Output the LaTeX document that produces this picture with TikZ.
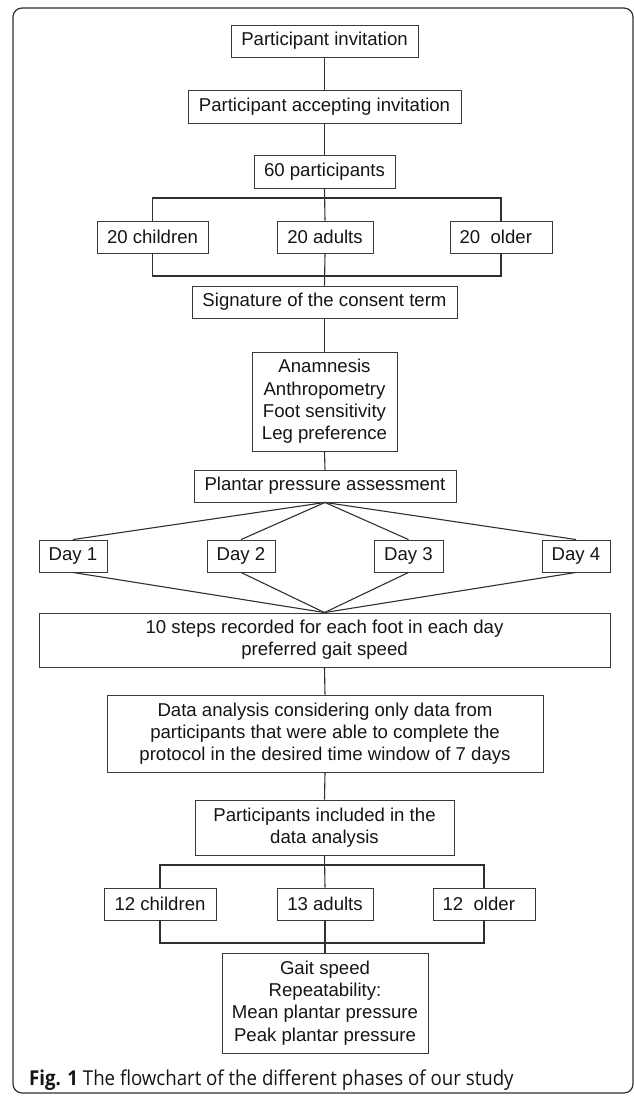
\documentclass[tikz,border=0pt]{standalone}
\usepackage{fontspec}
\setmainfont{Liberation Sans}
\newfontfamily\capfont[FakeStretch=0.91]{Open Sans}
\definecolor{linec}{HTML}{303030}
\definecolor{boxc}{HTML}{3A3A3A}
\definecolor{txtc}{HTML}{151515}
\begin{document}
\begin{tikzpicture}[x=1pt,y=-1pt,
  box/.style={draw=boxc, line width=0.9pt, rectangle, inner sep=0pt, align=center,
    text=txtc, font=\fontsize{18.6}{22.3}\selectfont, minimum height=32pt},
  conn/.style={draw=linec, line width=1.1pt}]
\useasboundingbox (0,0) rectangle (634,1096);
\draw[line width=1.2pt, draw=linec, rounded corners=9pt] (13,8) rectangle (633,1093);
\node[box, minimum width=187pt] (inv) at (324.5,41) {Participant invitation};
\node[box, minimum width=273pt, minimum height=33pt] (acc) at (324.5,106.5) {Participant accepting invitation};
\node[box, minimum width=141pt, minimum height=33pt] (p60) at (324.5,171.5) {60 participants};
\node[box, minimum width=111pt] (c20) at (152.5,237) {20 children};
\node[box, minimum width=96pt] (a20) at (325,237) {20 adults};
\node[box, minimum width=102pt] (o20) at (501,237) {20\ \ older\ \ };
\node[box, minimum width=265pt] (sig) at (324.5,302) {Signature of the consent term};
\node[box, minimum width=145pt, minimum height=99pt] (ana) at (324.5,401.5) {Anamnesis\\Anthropometry\\Foot sensitivity\\Leg preference};
\node[box, minimum width=262pt] (pla) at (325,486) {Plantar pressure assessment};
\node[box, minimum width=68pt] (d1) at (73,556) {Day 1};
\node[box, minimum width=68pt] (d2) at (241,556) {Day 2};
\node[box, minimum width=69pt] (d3) at (408.5,556) {Day 3};
\node[box, minimum width=68pt] (d4) at (576,556) {Day 4};
\node[box, minimum width=571pt, minimum height=54pt] (ten) at (324.5,640) {10 steps recorded for each foot in each day\\preferred gait speed};
\node[box, minimum width=436pt, minimum height=77pt] (dat) at (325,733.5) {Data analysis considering only data from\\participants that were able to complete the\\protocol in the desired time window of 7 days};
\node[box, minimum width=259pt, minimum height=55pt] (inc) at (324.5,827.5) {Participants included in the\\data analysis};
\node[box, minimum width=112pt] (c12) at (160,904) {12 children};
\node[box, minimum width=96pt] (a13) at (325,904) {13 adults};
\node[box, minimum width=102pt] (o12) at (484,904) {12\ \ older\ \ };
\node[box, minimum width=206pt, minimum height=100pt] (fin) at (325,1003) {Gait speed\\Repeatability:\\Mean plantar pressure\\Peak plantar pressure};
\node[anchor=base west, inner sep=0pt, text=txtc, font=\capfont\fontsize{20.5}{24}\selectfont] (cap) at (29,1085) {\textbf{Fig. 1} The flowchart of the different phases of our study};
% connectors
\draw[conn] (inv.south) -- (acc.north);
\draw[conn] (acc.south) -- (p60.north);
\coordinate (b1) at (325,198);
\coordinate (b2) at (325,276);
\coordinate (b3) at (325,865);
\coordinate (b4) at (325,943);
\draw[conn] (p60.south) -- (a20.north);
\draw[conn] (c20.north) |- (b1) -| (o20.north);
\draw[conn] (c20.south) |- (b2) -| (o20.south);
\draw[conn] (a20.south) -- (sig.north);
\draw[conn] (sig.south) -- (ana.north);
\draw[conn] (ana.south) -- (pla.north);
\foreach \d in {d1,d2,d3,d4} {
  \draw[conn] (pla.south) -- (\d.north);
  \draw[conn] (\d.south) -- (ten.north);
}
\draw[conn] (ten.south) -- (dat.north);
\draw[conn] (dat.south) -- (inc.north);
\draw[conn] (inc.south) -- (a13.north);
\draw[conn] (c12.north) |- (b3) -| (o12.north);
\draw[conn] (c12.south) |- (b4) -| (o12.south);
\draw[conn] (a13.south) -- (fin.north);
\end{tikzpicture}
\end{document}
